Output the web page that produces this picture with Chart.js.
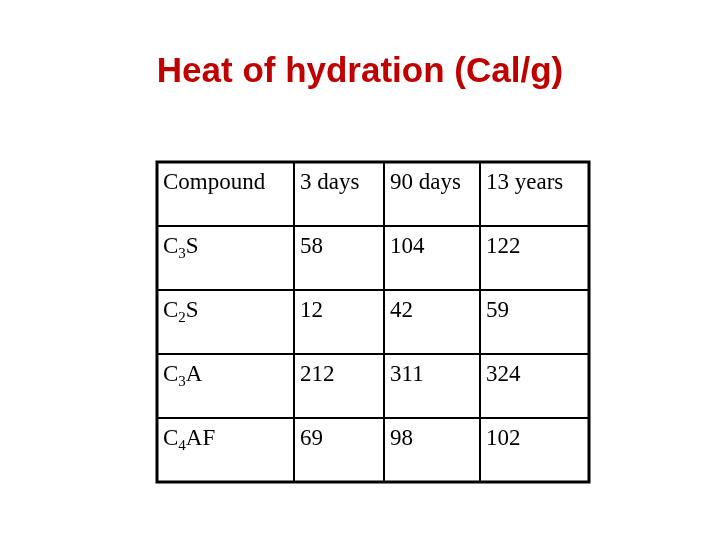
<!DOCTYPE html>
<html><head><meta charset="utf-8">
<script src="https://cdn.jsdelivr.net/npm/chart.js@4"></script>
<style>html,body{margin:0;padding:0;background:#fff}#c{display:block}</style>
</head><body>
<div style="width:720px;height:540px"><canvas id="c" width="720" height="540"></canvas></div>
<script>
const title = 'Heat of hydration (Cal/g)';
const headers = ['Compound', '3 days', '90 days', '13 years'];
const compounds = ['C3S', 'C2S', 'C3A', 'C4AF'];
const days3 = [58, 12, 212, 69];
const days90 = [104, 42, 311, 98];
const years13 = [122, 59, 324, 102];
const colEdges = [0, 137, 227, 323, 432];

const rows = compounds.map((c, i) => [c, String(days3[i]), String(days90[i]), String(years13[i])]);

function drawSub(ctx, s, x, y) {
  let cx = x;
  for (const ch of s) {
    if (/[0-9]/.test(ch)) {
      ctx.font = '15px "Liberation Serif", serif';
      ctx.fillText(ch, cx, y + 5);
    } else {
      ctx.font = '23px "Liberation Serif", serif';
      ctx.fillText(ch, cx, y);
    }
    cx += ctx.measureText(ch).width;
  }
}

const tablePlugin = {
  id: 'table',
  afterDraw(chart) {
    const ctx = chart.ctx, xs = chart.scales.x, ys = chart.scales.y;
    ctx.save();
    ctx.fillStyle = '#c00000';
    ctx.font = 'bold 35px "Liberation Sans", Arial, sans-serif';
    ctx.textAlign = 'center'; ctx.textBaseline = 'alphabetic';
    ctx.fillText(title, 360, 82);
    ctx.fillStyle = '#000';
    ctx.textAlign = 'left';
    const all = [headers, ...rows];
    all.forEach((r, ri) => {
      const yTop = ys.getPixelForValue(ri);
      r.forEach((t, ci) => {
        const x = xs.getPixelForValue(colEdges[ci]) + 6;
        const y = yTop + 27;
        if (ri > 0 && ci === 0) drawSub(ctx, t, x, y);
        else { ctx.font = '23px "Liberation Serif", serif'; ctx.fillText(t, x, y); }
      });
    });
    ctx.strokeStyle = '#000'; ctx.lineWidth = 3;
    ctx.strokeRect(xs.left, ys.top, xs.right - xs.left, ys.bottom - ys.top);
    ctx.restore();
  }
};

new Chart(document.getElementById('c'), {
  type: 'scatter',
  data: { datasets: [{ data: [], pointRadius: 0 }] },
  options: {
    responsive: false, animation: false,
    layout: { padding: { left: 157, right: 131, top: 162, bottom: 58 } },
    plugins: { legend: { display: false }, tooltip: { enabled: false } },
    scales: {
      x: {
        type: 'linear', min: 0, max: 432,
        afterBuildTicks(s) { s.ticks = colEdges.map(v => ({ value: v })); },
        ticks: { display: false },
        grid: { color: '#000', lineWidth: 2, drawTicks: false },
        border: { display: false }
      },
      y: {
        type: 'linear', min: 0, max: 5, reverse: true,
        afterBuildTicks(s) { s.ticks = [0,1,2,3,4,5].map(v => ({ value: v })); },
        ticks: { display: false },
        grid: { color: '#000', lineWidth: 2, drawTicks: false },
        border: { display: false }
      }
    }
  },
  plugins: [tablePlugin]
});
</script>
</body></html>
